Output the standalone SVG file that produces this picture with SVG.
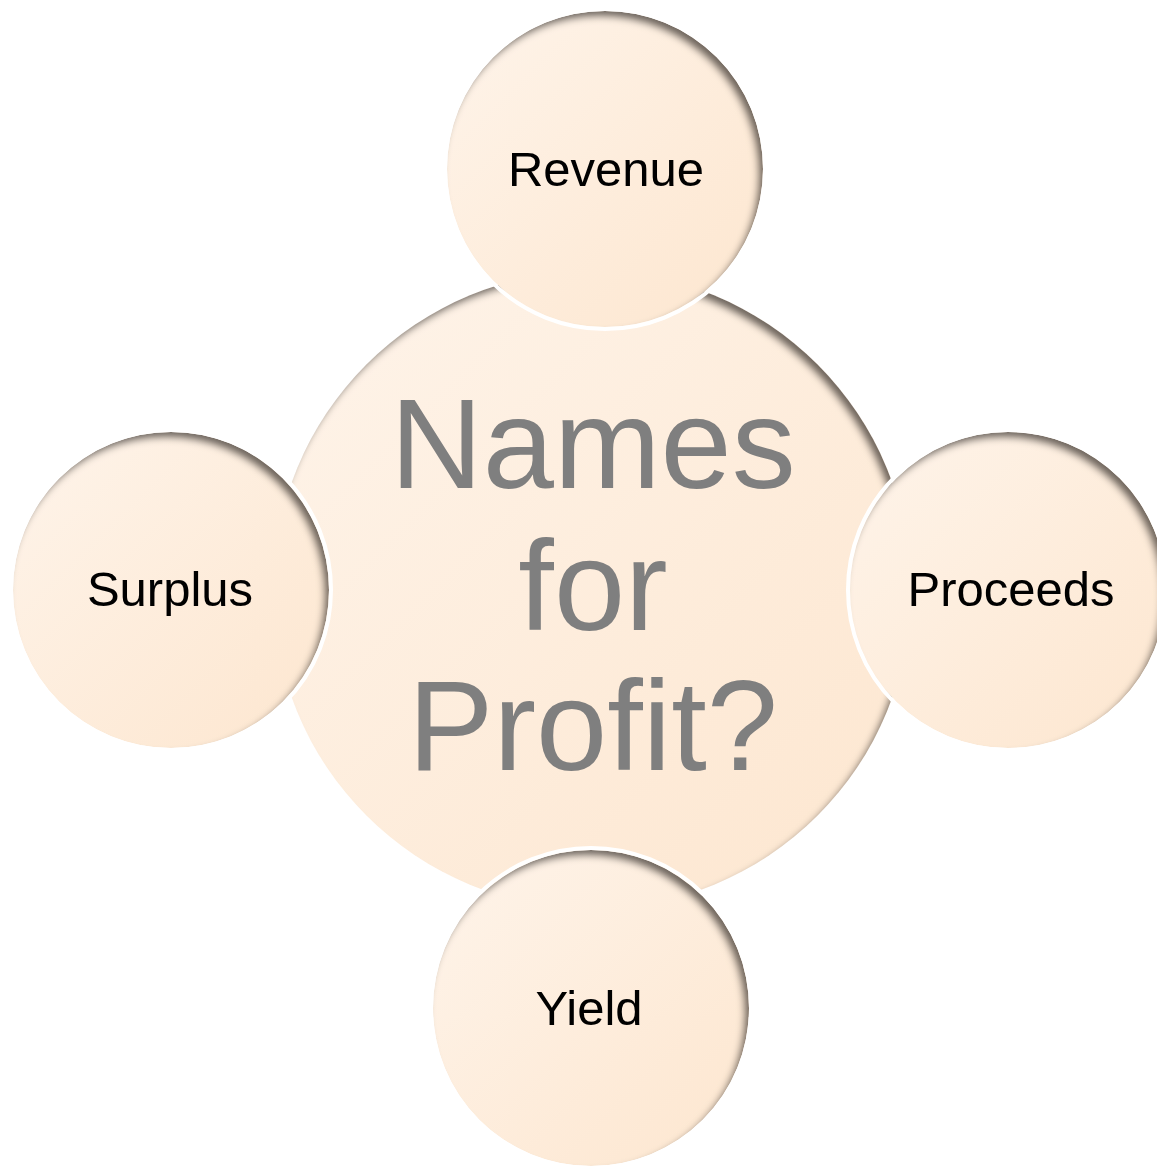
<svg xmlns="http://www.w3.org/2000/svg" width="1157" height="1166" viewBox="0 0 1157 1166">
<defs>
<linearGradient id="peach" x1="0" y1="0" x2="1" y2="1">
<stop offset="0" stop-color="#FEF4EA"/>
<stop offset="1" stop-color="#FDE6CF"/>
</linearGradient>
<filter id="inner" x="-10%" y="-10%" width="120%" height="120%">
<feFlood flood-color="#2a2018" flood-opacity="0.85" result="f"/>
<feComposite in="f" in2="SourceAlpha" operator="out" result="outside"/>
<feGaussianBlur in="outside" stdDeviation="3.5" result="blur"/>
<feOffset in="blur" dx="-5" dy="6" result="off"/>
<feComposite in="off" in2="SourceAlpha" operator="in" result="shadow"/>
<feMerge>
<feMergeNode in="SourceGraphic"/>
<feMergeNode in="shadow"/>
</feMerge>
</filter>
</defs>
<style>
.disc{fill:url(#peach);filter:url(#inner);}
.ring{fill:none;stroke:#FFFFFF;stroke-width:4;}
.lbl{font-family:"Liberation Sans",Arial,sans-serif;font-size:49px;fill:#000000;text-anchor:middle;}
.hub{font-family:"Liberation Sans",Arial,sans-serif;font-size:128px;fill:#7F7F7F;text-anchor:middle;}
</style>
<rect width="1157" height="1166" fill="#FFFFFF"/>
<g id="connectors"/>
<g id="center">
<circle class="disc" cx="592" cy="590" r="319"/>
<text class="hub" x="593" y="488">Names</text>
<text class="hub" x="593" y="630">for</text>
<text class="hub" x="593" y="770">Profit?</text>
</g>
<g id="revenue">
<circle class="disc" cx="605" cy="169" r="158"/>
<circle class="ring" cx="605" cy="169" r="160"/>
<text class="lbl" x="606" y="186">Revenue</text>
</g>
<g id="proceeds">
<circle class="disc" cx="1008" cy="590" r="158"/>
<circle class="ring" cx="1008" cy="590" r="160"/>
<text class="lbl" x="1011" y="606">Proceeds</text>
</g>
<g id="yield">
<circle class="disc" cx="591" cy="1008" r="158"/>
<circle class="ring" cx="591" cy="1008" r="160"/>
<text class="lbl" x="589" y="1025">Yield</text>
</g>
<g id="surplus">
<circle class="disc" cx="171" cy="590" r="158"/>
<circle class="ring" cx="171" cy="590" r="160"/>
<text class="lbl" x="170" y="606">Surplus</text>
</g>
</svg>
